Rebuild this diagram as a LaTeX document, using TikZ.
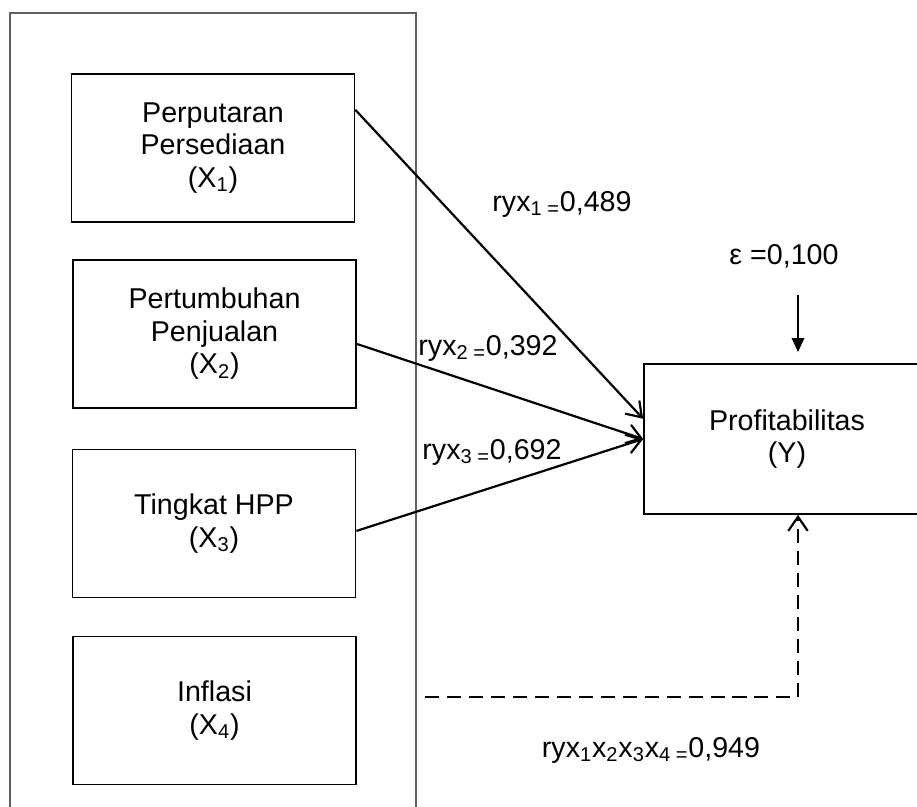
\documentclass[tikz,border=0pt]{standalone}
\usepackage{fontspec}
\setmainfont{Liberation Sans}
\usetikzlibrary{arrows.meta}
\definecolor{abu}{RGB}{95,95,95}
\tikzset{
>=Stealth,
kotak/.style={draw,line width=1pt,minimum width=5.66cm,minimum height=2.96cm,align=center,inner sep=0pt},
bingkai/.style={draw=abu,line width=1.3pt},
panah/.style={-{Straight Barb[length=8pt,width=11pt]},line width=1.25pt},
putus/.style={panah,dash pattern=on 8pt off 4.5pt},
galat/.style={-{Triangle[length=8pt,width=7pt]},line width=1.25pt},
koef/.style={inner sep=0pt}}

\begin{document}
\begin{tikzpicture}[x=0.02cm,y=-0.02cm,font=\fontsize{16.3}{18.5}\selectfont]
\useasboundingbox (0,0) rectangle (917,807);

\draw[bingkai] (10,13) rectangle (416,840);

\node[kotak] (x1) at (213,148)   {Perputaran\\Persediaan\\(X\textsubscript{1})};
\node[kotak] (x2) at (214.5,334) {Pertumbuhan\\Penjualan\\(X\textsubscript{2})};
\node[kotak] (x3) at (214,523.5) {Tingkat HPP\\(X\textsubscript{3})};
\node[kotak] (x4) at (214.5,710.5) {Inflasi\\(X\textsubscript{4})};
\node[kotak,minimum width=5.72cm,minimum height=3cm] (y) at (787,439) {Profitabilitas\\(Y)};

\node[koef] (r1) at (562,204) {ryx\textsubscript{1 =}0,489};
\node[koef] (r2) at (488,348) {ryx\textsubscript{2 =}0,392};
\node[koef] (r3) at (492,452) {ryx\textsubscript{3 =}0,692};
\node[koef] (eps) at (784,256) {ε =0,100};
\node[koef] (r4) at (651,750) {ryx\textsubscript{1}x\textsubscript{2}x\textsubscript{3}x\textsubscript{4 =}0,949};

\coordinate (epsin) at (798,295);
\coordinate (dmulai) at (425,697);

\draw[panah] (x1.15.5) -- (y.172);
\draw[panah] (x2.-4.8) -- (y.west);
\draw[panah] (x3.-3.8) -- (y.west);
\draw[galat,shorten >=11*0.02cm] (epsin) -- (epsin |- y.north);
\draw[putus] (dmulai) -| (epsin |- y.south);

\end{tikzpicture}
\end{document}
